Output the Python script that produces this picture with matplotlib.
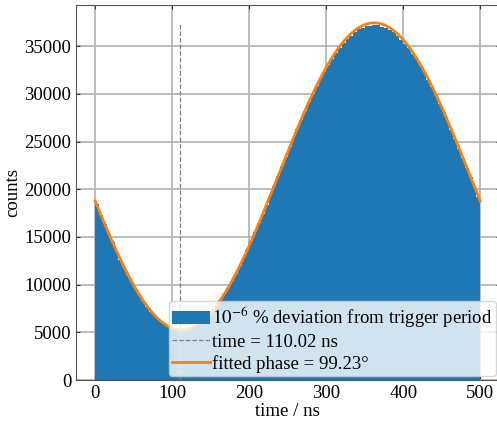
import numpy as np
import matplotlib
matplotlib.use('Agg')
import matplotlib.pyplot as plt

# histogram: 100 bins of 5 ns over one trigger period
bin_edges = np.linspace(0.0, 500.0, 101)
counts = [18480, 17350, 16380, 15330, 14450, 13560, 12600, 11800, 11050, 10250,
          9560, 8880, 8300, 7700, 7180, 6760, 6340, 6000, 5730, 5510,
          5360, 5270, 5240, 5290, 5390, 5540, 5770, 6060, 6390, 6800,
          7270, 7780, 8350, 8990, 9650, 10360, 11120, 11930, 12770, 13640,
          14540, 15470, 16420, 17390, 18380, 19380, 20380, 21390, 22400, 23400,
          24390, 25380, 26350, 27290, 28220, 29110, 29970, 30790, 31580, 32330,
          33030, 33690, 34280, 34840, 35330, 35780, 36120, 36460, 36760, 36900,
          37080, 37150, 37250, 37180, 37050, 36880, 36680, 36470, 36080, 35700,
          35280, 34780, 34230, 33620, 32950, 32250, 31490, 30690, 29860, 28990,
          28090, 27170, 26220, 25250, 24260, 23270, 22260, 21250, 20250, 19230]

# fitted model: offset + amplitude * cos(2 pi t / period + phase)
fit_offset    = 21350.0
fit_amplitude = 16100.0
fit_period    = 500.0
fit_phase_deg = 99.23
marker_time   = 110.02

plt.rcParams['font.family'] = 'serif'
plt.rcParams['font.serif'] = ['Liberation Serif', 'DejaVu Serif']
plt.rcParams['mathtext.fontset'] = 'stix'
fs = 13.5

fig = plt.figure(figsize=(4.97, 4.23), dpi=100)
ax = fig.add_axes([76/497, 43/423, (499.5-76)/497, (418-43)/423])

centers = 0.5*(bin_edges[1:] + bin_edges[:-1])
ax.hist(centers, bins=bin_edges, weights=counts, color='#1f77b4',
        label=r'$10^{-6}$ % deviation from trigger period')

t = np.linspace(0.0, 500.0, 1001)
fit = fit_offset + fit_amplitude*np.cos(2*np.pi*t/fit_period + np.deg2rad(fit_phase_deg))
ax.vlines(marker_time, 0, fit.max(), colors='gray', linestyles='--', linewidth=0.9,
          label='time = %.2f ns' % marker_time)
ax.plot(t, fit, color='#ff7f0e', linewidth=2.0, label='fitted phase = %.2f°' % fit_phase_deg)

ax.set_xticks(np.arange(0, 501, 100))
ax.set_yticks(np.arange(0, 35001, 5000))
ax.set_xlabel('time / ns', fontsize=fs, labelpad=1)
ax.set_ylabel('counts', fontsize=fs, labelpad=2)
ax.grid(True, color='#b0b0b0', linewidth=1.2)
ax.set_axisbelow(True)
ax.tick_params('both', which='both', direction='in', labelsize=fs, right=True, top=True,
               length=3, color='#333333')
for sp in ax.spines.values():
    sp.set_color('#555555')

ax.legend(loc='lower right', fontsize=fs, borderaxespad=0.2, labelspacing=0.2,
          handletextpad=0.1, borderpad=0.2)

fig.savefig('out.png', dpi=100)
